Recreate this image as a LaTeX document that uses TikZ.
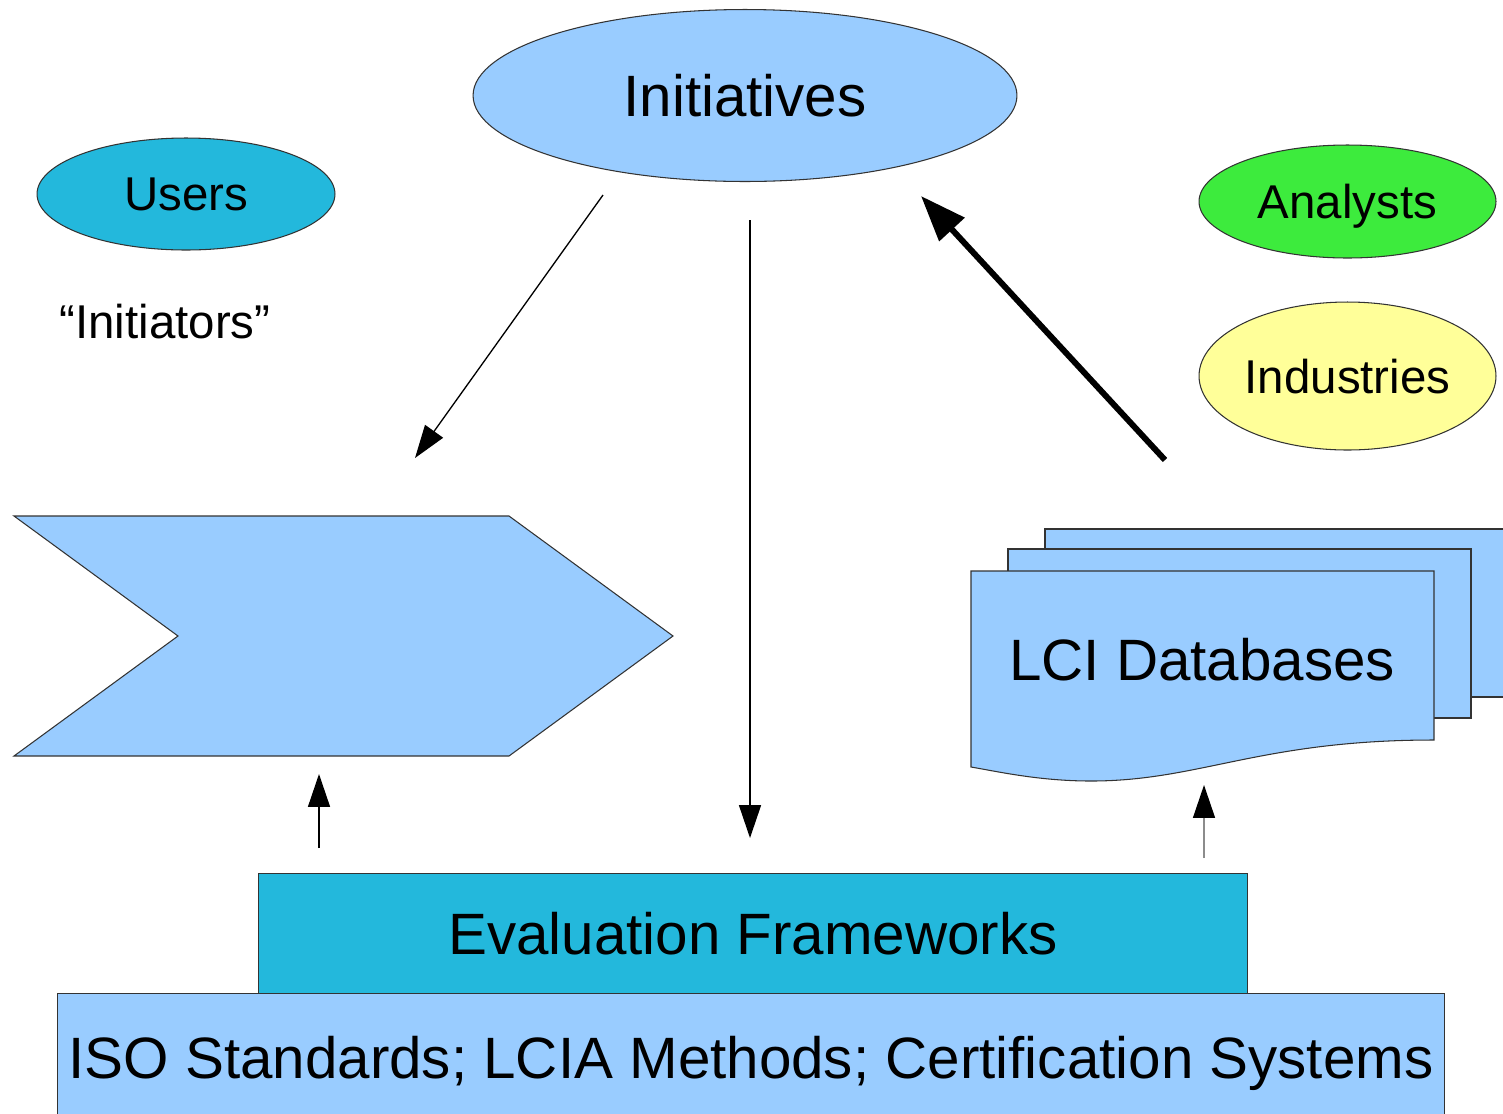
\documentclass[tikz,border=0pt]{standalone}
\usepackage{fontspec}
\setmainfont{Liberation Sans}
\usetikzlibrary{shapes.geometric,arrows.meta}

\definecolor{paleblue}{HTML}{99CCFF}
\definecolor{cyanfill}{HTML}{23B8DC}
\definecolor{greenfill}{HTML}{3DEB3D}
\definecolor{yellowfill}{HTML}{FFFF99}

\tikzset{
  outline/.style={draw=black!80, line width=0.6pt},
  oval/.style={ellipse, outline, inner sep=0pt, text depth=0pt},
  block/.style={rectangle, outline, inner sep=0pt, text depth=0pt},
  bigtext/.style={font=\fontsize{33.2}{40}\selectfont},
  smalltext/.style={font=\fontsize{27}{32}\selectfont},
  thinarrow/.style={line width=0.75pt, -{Triangle[length=18.7pt, width=12.5pt]}},
  thickarrow/.style={line width=3.4pt, -{Triangle[length=26pt, width=19pt]}},
}

\begin{document}
\begin{tikzpicture}[x=0.02cm, y=-0.02cm]
\useasboundingbox (0,0) rectangle (1503,1113);

% ovals
\node[oval, fill=paleblue, minimum width=10.88cm, minimum height=3.44cm, bigtext]
  (initiatives) at (745,95.5) {Initiatives};
\node[oval, fill=cyanfill, minimum width=5.96cm, minimum height=2.24cm, smalltext]
  (users) at (186,194) {Users};
\node[oval, fill=greenfill, minimum width=5.94cm, minimum height=2.26cm, smalltext]
  (analysts) at (1347.5,201.5) {Analysts};
\node[oval, fill=yellowfill, minimum width=5.94cm, minimum height=2.96cm, smalltext]
  (industries) at (1347.5,376) {Industries};

\node[smalltext, anchor=base] (initiators) at (165,338) {“Initiators”};

% chevron
\draw[outline, fill=paleblue] (14,516) -- (509,516) -- (673,636) -- (509,756)
  -- (14,756) -- (178,636) -- cycle;

% stacked documents
\draw[outline, fill=paleblue] (1045,529) -- (1520,529) -- (1520,697) -- (1045,697) -- cycle;
\draw[outline, fill=paleblue] (1008,549) -- (1471,549) -- (1471,718) -- (1008,718) -- cycle;
\draw[outline, fill=paleblue] (971,571) -- (1434,571) -- (1434,740)
  .. controls (1260,740) and (1200,781) .. (1091,781)
  .. controls (1040,781) and (1000,772) .. (971,767) -- cycle;
\node[bigtext, anchor=base] (lci) at (1202,680) {LCI Databases};

% framework blocks
\node[block, fill=cyanfill, minimum width=19.8cm, minimum height=2.42cm, bigtext]
  (eval) at (753,933.5) {Evaluation Frameworks};
\node[block, fill=paleblue, minimum width=27.76cm, minimum height=2.56cm, bigtext]
  (iso) at (751,1057) {ISO Standards; LCIA Methods; Certification Systems};

% arrow end points
\coordinate (a1s) at (603,195);  \coordinate (a1e) at (415,458);
\coordinate (a2s) at (750,220);  \coordinate (a2e) at (750,838);
\coordinate (a3s) at (1165,460); \coordinate (a3e) at (921,196);
\coordinate (a4s) at (319,848);  \coordinate (a4e) at (319,774);
\coordinate (a5s) at (1204,858); \coordinate (a5e) at (1204,785);

\draw[thinarrow] (a1s) -- (a1e);
\draw[thinarrow] (a2s) -- (a2e);
\draw[thickarrow] (a3s) -- (a3e);
\draw[thinarrow] (a4s) -- (a4e);
\draw[thinarrow, draw=black!45, -{Triangle[length=18.7pt, width=12.5pt, fill=black, color=black]}] (a5s) -- (a5e);
\end{tikzpicture}
\end{document}
